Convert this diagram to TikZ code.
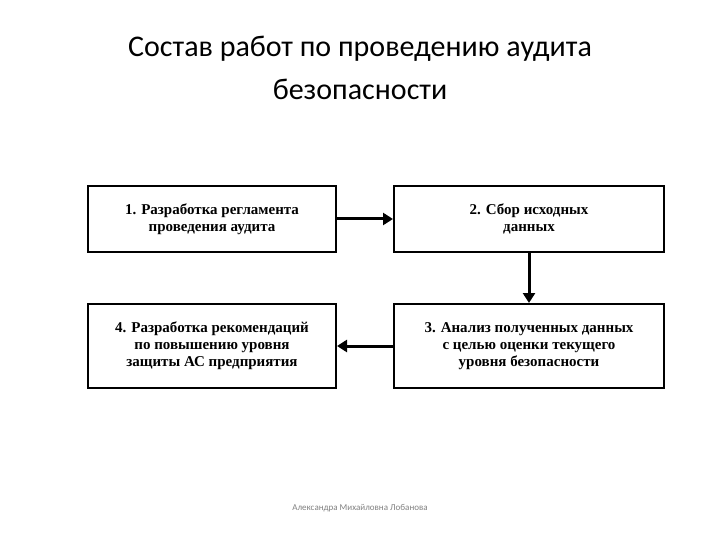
\documentclass[tikz,border=0pt]{standalone}
\usepackage{fontspec}
\setmainfont{Liberation Serif}
\newfontfamily\titlefont{Carlito}
\usetikzlibrary{arrows.meta}
\begin{document}
\begin{tikzpicture}[x=1pt,y=-1pt,
  box/.style={draw=black,line width=2pt,minimum width=248pt,minimum height=66pt,align=center,font=\fontsize{15}{17}\selectfont\bfseries,inner sep=0pt},
  wbox/.style={box,minimum width=270pt},
  arr/.style={line width=3pt,-{Triangle[length=10pt,width=12pt]}}]
\useasboundingbox (0,0) rectangle (720,540);
\node[font=\titlefont\fontsize{30}{43}\selectfont,align=center] (t) at (360,68) {Состав работ по проведению аудита\\безопасности};
\node[box] (b1) at (212,219) {1. Разработка регламента\\проведения аудита};
\node[wbox] (b2) at (529,219) {2. Сбор исходных\\данных};
\node[wbox,minimum height=84pt] (b3) at (529,346) {3. Анализ полученных данных\\с целью оценки текущего\\уровня безопасности};
\node[box,minimum height=84pt] (b4) at (212,346) {4. Разработка рекомендаций\\по повышению уровня\\защиты АС предприятия};
\draw[arr] (b1) -- (b2);
\draw[arr] (b2) -- (b3);
\draw[arr] (b3) -- (b4);
\node[font=\titlefont\fontsize{9}{10}\selectfont,text=gray] (f) at (360,508) {Александра Михайловна Лобанова};
\end{tikzpicture}
\end{document}
